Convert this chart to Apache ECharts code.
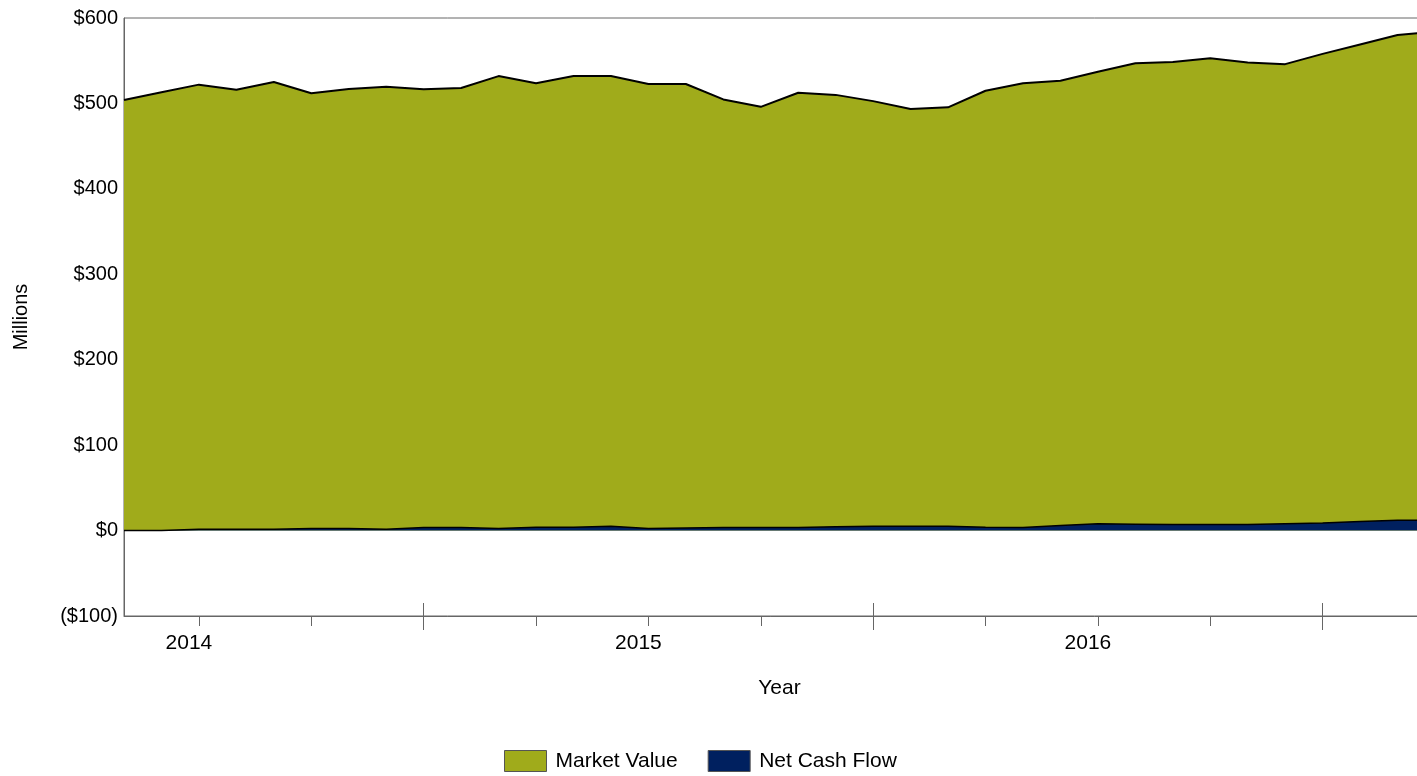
<!DOCTYPE html>
<html>
<head>
<meta charset="utf-8">
<title>Market Value and Net Cash Flow</title>
<script src="https://cdn.jsdelivr.net/npm/echarts@6/dist/echarts.min.js"></script>
<style>
    html, body { margin: 0; padding: 0; background: #ffffff; }
    #chart { width: 1417px; height: 776px; }
</style>
</head>
<body>
<div id="chart"></div>
<script>
// Monthly data, Nov 2013 .. Oct 2016 (millions)
const months = [
    '2013-11', '2013-12',
    '2014-01', '2014-02', '2014-03', '2014-04', '2014-05', '2014-06',
    '2014-07', '2014-08', '2014-09', '2014-10', '2014-11', '2014-12',
    '2015-01', '2015-02', '2015-03', '2015-04', '2015-05', '2015-06',
    '2015-07', '2015-08', '2015-09', '2015-10', '2015-11', '2015-12',
    '2016-01', '2016-02', '2016-03', '2016-04', '2016-05', '2016-06',
    '2016-07', '2016-08', '2016-09', '2016-10'
];

const marketValue = [
    504, 513,
    522, 516, 525, 512, 517, 519.5,
    516.5, 518, 532, 523.5, 532, 532,
    522.7, 522.7, 504.7, 496, 512.5, 510,
    502.7, 493.4, 495.4, 514.8, 523.5, 526.6,
    537, 547, 548.5, 552.8, 548, 546,
    558, 569, 580, 584
];

const netCashFlow = [
    0, 0,
    1.5, 1.5, 1.5, 2.5, 2.5, 1.5,
    3.5, 3.5, 2.5, 4, 4, 5,
    2.5, 3, 3.5, 3.5, 3.5, 4.5,
    5, 5, 5, 4, 3.5, 6,
    8, 7.5, 7, 7, 7, 8,
    9, 10.5, 12, 12
];

// x labels: year name sits on the January of that year
const yearLabels = { '2014-01': '2014', '2015-01': '2015', '2016-01': '2016' };

const yTicks = [-100, 0, 100, 200, 300, 400, 500, 600];
const yTickLabels = ['($100)', '$0', '$100', '$200', '$300', '$400', '$500', '$600'];

const FONT = "'Liberation Sans', Arial, sans-serif";
const AXIS_GREY = '#666666';

const chart = echarts.init(document.getElementById('chart'));

const option = {
    animation: false,
    textStyle: { fontFamily: FONT, color: '#000' },
    grid: {
        // the last month runs past the right edge of the picture
        left: 124,
        top: 18,
        width: 1311,
        bottom: 160,
        outerBoundsMode: 'none',
        containLabel: false,
        show: true,
        borderColor: AXIS_GREY,
        borderWidth: 1,
        backgroundColor: 'transparent'
    },
    legend: {
        left: 504,
        top: 750,
        padding: 0,
        icon: 'rect',
        itemWidth: 42,
        itemHeight: 21,
        itemGap: 30,
        itemStyle: { borderColor: '#555', borderWidth: 1 },
        textStyle: { fontFamily: FONT, fontSize: 21, color: '#000', padding: [0, 0, 0, 4] },
        data: ['Market Value', 'Net Cash Flow']
    },
    xAxis: [
        {
            type: 'category',
            data: months,
            boundaryGap: false,
            name: 'Year',
            nameLocation: 'middle',
            nameGap: 62,
            nameTextStyle: { fontFamily: FONT, fontSize: 21, color: '#000' },
            axisLine: { onZero: false, lineStyle: { color: AXIS_GREY, width: 1 } },
            axisTick: {
                show: true,
                length: 10,
                interval: function (i) { return i % 3 === 2; },
                lineStyle: { color: AXIS_GREY }
            },
            axisLabel: {
                interval: function (i, v) { return yearLabels[v] !== undefined; },
                formatter: function (v) { return yearLabels[v] || ''; },
                fontFamily: FONT,
                fontSize: 21,
                color: '#000',
                margin: 17,
                padding: [0, 20, 0, 0]
            },
            splitLine: { show: false }
        },
        {
            // long fiscal-year ticks crossing the axis line
            type: 'category',
            data: months,
            boundaryGap: false,
            position: 'bottom',
            offset: -13,
            axisLine: { show: false, onZero: false },
            axisTick: {
                show: true,
                length: 27,
                interval: function (i) { return i % 12 === 8; },
                lineStyle: { color: AXIS_GREY }
            },
            axisLabel: { show: false },
            splitLine: { show: false }
        }
    ],
    yAxis: {
        type: 'value',
        min: -100,
        max: 600,
        interval: 100,
        name: 'Millions',
        nameLocation: 'middle',
        nameRotate: 90,
        nameGap: 93,
        nameTextStyle: { fontFamily: FONT, fontSize: 20, color: '#000' },
        axisLine: { show: true, onZero: false, lineStyle: { color: AXIS_GREY, width: 1 } },
        axisTick: { show: false },
        axisLabel: {
            fontFamily: FONT,
            fontSize: 20,
            color: '#000',
            margin: 6,
            formatter: function (v) {
                const i = yTicks.indexOf(v);
                return i >= 0 ? yTickLabels[i] : '';
            }
        },
        splitLine: { show: false }
    },
    series: [
        {
            name: 'Market Value',
            type: 'line',
            data: marketValue,
            symbol: 'none',
            z: 2,
            itemStyle: { color: '#A0AB1B' },
            lineStyle: { color: '#000000', width: 2 },
            areaStyle: { color: '#A0AB1B', opacity: 1, origin: 0 }
        },
        {
            name: 'Net Cash Flow',
            type: 'line',
            data: netCashFlow,
            symbol: 'none',
            z: 3,
            itemStyle: { color: '#00205F' },
            lineStyle: { color: '#000000', width: 1.5 },
            areaStyle: { color: '#00205F', opacity: 1, origin: 0 }
        }
    ]
};

chart.setOption(option);
</script>
</body>
</html>
